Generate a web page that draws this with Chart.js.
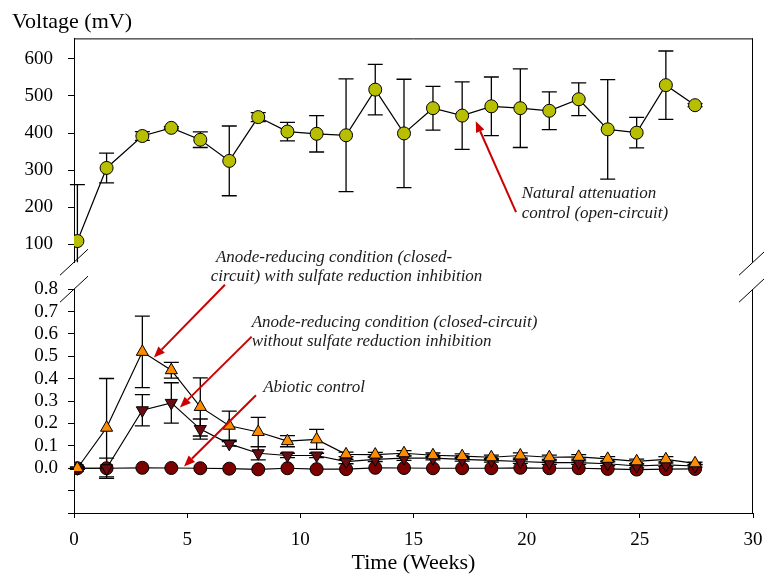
<!DOCTYPE html>
<html>
<head>
<meta charset="utf-8">
<script src="https://cdn.jsdelivr.net/npm/chart.js@4.4.1/dist/chart.umd.min.js"></script>
<style>
  body { margin: 0; background: #fff; }
</style>
</head>
<body>
<canvas id="c" width="764" height="574"></canvas>
<script>
// time of each reading, weeks
const weeks = [0.15, 1.44, 3.02, 4.30, 5.58, 6.86, 8.14, 9.43, 10.72, 12.02, 13.31,
  14.58, 15.86, 17.15, 18.44, 19.72, 21.0, 22.3, 23.58, 24.86, 26.15, 27.44];

// natural attenuation control (open-circuit), mV
const openCircuit = [109, 306, 392, 414, 382, 325, 443, 404, 398, 394, 517,
  399, 467, 447, 472, 467, 460, 491, 410, 401, 529, 475];
const openCircuitErr = [152, 40, 12, 3, 21, 94, 12, 25, 49, 152, 68,
  146, 59, 91, 79, 106, 51, 44, 134, 41, 92, 4];

// anode-reducing, closed-circuit, with sulfate reduction inhibition
const withInhibition = [0.0, 0.181, 0.52, 0.438, 0.274, 0.19, 0.162, 0.121, 0.129, 0.062, 0.061,
  0.067, 0.058, 0.054, 0.049, 0.057, 0.049, 0.051, 0.042, 0.031, 0.040, 0.022];
const withInhibitionErr = [0.005, 0.22, 0.16, 0.035, 0.13, 0.065, 0.065, 0.025, 0.045, 0.01, 0.01,
  0.012, 0.01, 0.01, 0.01, 0.012, 0.01, 0.01, 0.01, 0.01, 0.012, 0.005];

// anode-reducing, closed-circuit, without inhibition
const withoutInhibition = [0.0, 0.0, 0.259, 0.292, 0.175, 0.109, 0.067, 0.057, 0.057, 0.03, 0.04,
  0.045, 0.045, 0.04, 0.035, 0.03, 0.025, 0.025, 0.02, 0.01, 0.015, 0.01];
const withoutInhibitionErr = [0.005, 0.045, 0.07, 0.09, 0.045, 0.01, 0.03, 0.01, 0.01, 0.01, 0.01,
  0.01, 0.008, 0.008, 0.008, 0.008, 0.008, 0.008, 0.008, 0.008, 0.008, 0.005];

// abiotic control
const abiotic = [0.0, 0.0, 0.002, 0.001, 0.0, -0.002, -0.005, 0.0, -0.004, -0.004, 0.002,
  0.001, 0.0, 0.0, 0.0, 0.002, 0.0, 0.0, -0.003, -0.006, -0.004, -0.003];

const xTicks = [0, 5, 10, 15, 20, 25, 30];
const highTicks = [100, 200, 300, 400, 500, 600];
const lowTicks = [-0.2, -0.1, 0.0, 0.1, 0.2, 0.3, 0.4, 0.5, 0.6, 0.7, 0.8];

const serif = 'Liberation Serif, Times New Roman, serif';

const pts = vals => weeks.map((w, i) => ({ x: w, y: vals[i] }));

// callouts, anchored in data units (x in weeks, y on the named axis)
const notes = [
  { axis: 'yHigh', lines: [[19.78, 237, 'Natural attenuation'], [19.78, 184, 'control (open-circuit)']],
    arrow: [19.53, 187, 17.75, 432] },
  { axis: 'yLow', lines: [[6.27, 0.941, 'Anode-reducing condition (closed-'], [6.04, 0.856, 'circuit) with sulfate reduction inhibition']],
    arrow: [6.67, 0.82, 3.53, 0.495] },
  { axis: 'yLow', lines: [[7.85, 0.649, 'Anode-reducing condition (closed-circuit)'], [7.85, 0.564, 'without sulfate reduction inhibition']],
    arrow: [7.85, 0.588, 4.68, 0.271] },
  { axis: 'yLow', lines: [[8.36, 0.362, 'Abiotic control']],
    arrow: [8.04, 0.326, 4.86, 0.008] }
];

function drawArrow(ctx, x1, y1, x2, y2) {
  const a = Math.atan2(y2 - y1, x2 - x1), h = 11, w = 4.5;
  const bx = x2 - h * Math.cos(a), by = y2 - h * Math.sin(a);
  ctx.beginPath();
  ctx.moveTo(x1, y1);
  ctx.lineTo(bx, by);
  ctx.stroke();
  ctx.beginPath();
  ctx.moveTo(x2, y2);
  ctx.lineTo(bx + w * Math.sin(a), by - w * Math.cos(a));
  ctx.lineTo(bx - w * Math.sin(a), by + w * Math.cos(a));
  ctx.closePath();
  ctx.fill();
}

const errorBars = {
  id: 'errorBars',
  beforeDatasetsDraw(chart) {
    const ctx = chart.ctx;
    ctx.save();
    ctx.strokeStyle = '#000';
    ctx.lineWidth = 1.3;
    chart.data.datasets.forEach((ds, i) => {
      if (!ds.errors) return;
      const meta = chart.getDatasetMeta(i);
      const s = chart.scales[ds.yAxisID];
      meta.data.forEach((p, j) => {
        const v = ds.data[j].y, e = ds.errors[j];
        let yt = s.getPixelForValue(v + e), yb = s.getPixelForValue(v - e);
        const capT = yt >= s.top, capB = yb <= s.bottom;
        yt = Math.max(yt, s.top); yb = Math.min(yb, s.bottom);
        ctx.beginPath();
        ctx.moveTo(p.x, yt); ctx.lineTo(p.x, yb);
        if (capT) { ctx.moveTo(p.x - 7.5, yt); ctx.lineTo(p.x + 7.5, yt); }
        if (capB) { ctx.moveTo(p.x - 7.5, yb); ctx.lineTo(p.x + 7.5, yb); }
        ctx.stroke();
      });
    });
    ctx.restore();
  }
};

const frame = {
  id: 'frame',
  afterDraw(chart) {
    const { ctx, scales: { x, yHigh, yLow } } = chart;
    ctx.save();
    ctx.strokeStyle = '#000';
    ctx.lineWidth = 1;
    ctx.beginPath();
    ctx.moveTo(x.left, yHigh.top + 0.5); ctx.lineTo(x.right, yHigh.top + 0.5);
    ctx.moveTo(x.right - 0.5, yHigh.top); ctx.lineTo(x.right - 0.5, yHigh.bottom);
    ctx.moveTo(x.right - 0.5, yLow.top); ctx.lineTo(x.right - 0.5, yLow.bottom);
    // axis break marks
    [x.left, x.right].forEach(cx => {
      [yHigh.bottom, yLow.top].forEach(cy => {
        ctx.moveTo(cx - 14, cy + 13); ctx.lineTo(cx + 14, cy - 13);
      });
    });
    ctx.stroke();

    // callouts
    ctx.fillStyle = '#1a1a1a';
    ctx.font = 'italic 17px ' + serif;
    ctx.textAlign = 'left';
    ctx.textBaseline = 'middle';
    notes.forEach(n => {
      const s = chart.scales[n.axis];
      n.lines.forEach(([lx, ly, t]) => ctx.fillText(t, x.getPixelForValue(lx), s.getPixelForValue(ly)));
    });
    ctx.strokeStyle = '#cc0000';
    ctx.fillStyle = '#cc0000';
    ctx.lineWidth = 2;
    notes.forEach(n => {
      const s = chart.scales[n.axis];
      const [x1, y1, x2, y2] = n.arrow;
      drawArrow(ctx, x.getPixelForValue(x1), s.getPixelForValue(y1), x.getPixelForValue(x2), s.getPixelForValue(y2));
    });
    ctx.restore();
  }
};

const yBase = {
  type: 'linear',
  position: 'left',
  stack: 'v',
  grid: { drawOnChartArea: false, color: '#000', tickLength: 6 },
  border: { color: '#000' }
};

new Chart(document.getElementById('c'), {
  type: 'line',
  data: {
    datasets: [
      {
        data: pts(withInhibition), errors: withInhibitionErr, yAxisID: 'yLow',
        borderColor: '#000', borderWidth: 1.2, pointStyle: 'triangle', pointRadius: 7,
        pointBackgroundColor: '#ff8c00', pointBorderColor: '#000', pointBorderWidth: 1
      },
      {
        data: pts(withoutInhibition), errors: withoutInhibitionErr, yAxisID: 'yLow',
        borderColor: '#000', borderWidth: 1.2, pointStyle: 'triangle', pointRotation: 180, pointRadius: 7,
        pointBackgroundColor: '#6a0c12', pointBorderColor: '#000', pointBorderWidth: 1
      },
      {
        data: pts(abiotic), yAxisID: 'yLow',
        borderColor: '#000', borderWidth: 1.2, pointStyle: 'circle', pointRadius: 6.5,
        pointBackgroundColor: '#7d0000', pointBorderColor: '#000', pointBorderWidth: 1
      },
      {
        data: pts(openCircuit), errors: openCircuitErr, yAxisID: 'yHigh',
        borderColor: '#000', borderWidth: 1.2, pointStyle: 'circle', pointRadius: 6.5,
        pointBackgroundColor: '#b8be00', pointBorderColor: '#000', pointBorderWidth: 1
      }
    ]
  },
  options: {
    responsive: false,
    animation: false,
    layout: { padding: { left: 12, right: 11, top: 0, bottom: 0 } },
    plugins: {
      legend: { display: false },
      tooltip: { enabled: false },
      title: {
        display: true, text: 'Voltage (mV)', align: 'start', color: '#000',
        font: { family: serif, size: 22, weight: 'normal', lineHeight: 1.2 },
        padding: { top: 9, bottom: 3 }
      }
    },
    scales: {
      x: {
        type: 'linear', min: 0, max: 30,
        afterBuildTicks: s => { s.ticks = xTicks.map(v => ({ value: v })); },
        ticks: { color: '#000', padding: 11, autoSkip: false, font: { family: serif, size: 19 } },
        grid: { drawOnChartArea: false, color: '#000', tickLength: 5 },
        border: { color: '#000' },
        title: {
          display: true, text: 'Time (Weeks)', color: '#000', padding: 0,
          font: { family: serif, size: 22, lineHeight: 1 }
        },
        afterFit: s => { s.height = 61; s.paddingLeft = 0; s.paddingRight = 0; }
      },
      yLow: {
        ...yBase, min: -0.2, max: 0.8, stackWeight: 224,
        afterBuildTicks: s => { s.ticks = lowTicks.map(v => ({ value: v })); },
        ticks: {
          color: '#000', padding: 10, autoSkip: false, font: { family: serif, size: 19 },
          callback: v => (v >= -0.001 ? v.toFixed(1) : '')
        },
        afterFit: s => { s.width = 62; s.paddingTop = 0; s.paddingBottom = 0; }
      },
      yGap: {
        type: 'linear', position: 'left', stack: 'v', stackWeight: 27, min: 0, max: 1,
        grid: { display: false }, ticks: { display: false }, border: { display: false },
        afterFit: s => { s.width = 62; s.paddingTop = 0; s.paddingBottom = 0; }
      },
      yHigh: {
        ...yBase, min: 52, max: 655, stackWeight: 224,
        afterBuildTicks: s => { s.ticks = highTicks.map(v => ({ value: v })); },
        ticks: { color: '#000', padding: 15, autoSkip: false, font: { family: serif, size: 19 } },
        afterFit: s => { s.width = 62; s.paddingTop = 0; s.paddingBottom = 0; }
      }
    }
  },
  plugins: [errorBars, frame]
});
</script>
</body>
</html>
